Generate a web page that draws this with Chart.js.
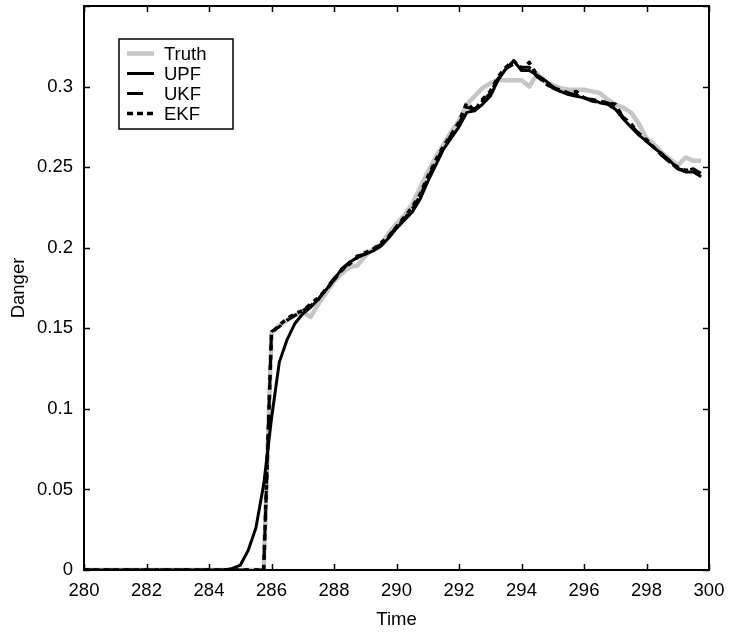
<!DOCTYPE html>
<html>
<head>
<meta charset="utf-8">
<script src="https://cdn.jsdelivr.net/npm/chart.js@4/dist/chart.umd.min.js"></script>
<style>
  html, body { margin: 0; padding: 0; background: #fff; }
  #wrap { width: 734px; height: 633px; }
</style>
</head>
<body>
<div id="wrap"><canvas id="dangerChart" width="734" height="633"></canvas></div>
<script>
// time grid (flat zero part only needs its ends)
const time = [280,
  284.5, 284.75,
  285, 285.25, 285.5, 285.75,
  286, 286.25, 286.5, 286.75,
  287, 287.25, 287.5, 287.75,
  288, 288.25, 288.5, 288.75,
  289, 289.25, 289.5, 289.75,
  290, 290.25, 290.5, 290.75,
  291, 291.25, 291.5, 291.75,
  292, 292.25, 292.5, 292.75,
  293, 293.25, 293.5, 293.75,
  294, 294.25, 294.5, 294.75,
  295, 295.25, 295.5, 295.75,
  296, 296.25, 296.5, 296.75,
  297, 297.25, 297.5, 297.75,
  298, 298.25, 298.5, 298.75,
  299, 299.25, 299.5, 299.75];

const truth = [0,
  0, 0,
  0, 0, 0, 0,
  0.147, 0.152, 0.155, 0.158,
  0.160, 0.157, 0.165, 0.172,
  0.179, 0.184, 0.188, 0.189,
  0.195, 0.199, 0.202, 0.209,
  0.215, 0.220, 0.227, 0.237,
  0.247, 0.256, 0.264, 0.272,
  0.279, 0.289, 0.294, 0.299,
  0.302, 0.304, 0.304, 0.304,
  0.304, 0.300, 0.308, 0.303,
  0.301, 0.299, 0.298, 0.298,
  0.298, 0.297, 0.296, 0.292,
  0.289, 0.287, 0.284, 0.277,
  0.268, 0.264, 0.259, 0.255,
  0.251, 0.256, 0.254, 0.254];

const upf = [0,
  0, 0.001,
  0.003, 0.012, 0.026, 0.053,
  0.094, 0.129, 0.143, 0.153,
  0.159, 0.163, 0.168, 0.174,
  0.180, 0.187, 0.191, 0.194,
  0.196, 0.198, 0.201, 0.206,
  0.212, 0.217, 0.222, 0.230,
  0.241, 0.251, 0.261, 0.268,
  0.275, 0.284, 0.285, 0.289,
  0.294, 0.304, 0.311, 0.316,
  0.310, 0.310, 0.307, 0.304,
  0.300, 0.297, 0.295, 0.294,
  0.293, 0.292, 0.290, 0.289,
  0.286, 0.280, 0.275, 0.270,
  0.266, 0.262, 0.258, 0.254,
  0.249, 0.247, 0.247, 0.244];

const ukf = [0,
  0, 0,
  0, 0, 0, 0,
  0.148, 0.151, 0.155, 0.158,
  0.161, 0.164, 0.168, 0.175,
  0.181, 0.186, 0.191, 0.195,
  0.196, 0.199, 0.202, 0.207,
  0.213, 0.218, 0.224, 0.232,
  0.243, 0.253, 0.262, 0.270,
  0.277, 0.287, 0.286, 0.291,
  0.296, 0.305, 0.311, 0.314,
  0.312, 0.312, 0.306, 0.303,
  0.299, 0.297, 0.296, 0.295,
  0.293, 0.291, 0.290, 0.290,
  0.288, 0.281, 0.276, 0.271,
  0.266, 0.262, 0.257, 0.253,
  0.249, 0.248, 0.249, 0.246];

const ekf = [0,
  0, 0,
  0, 0, 0, 0,
  0.147, 0.152, 0.156, 0.159,
  0.161, 0.165, 0.169, 0.174,
  0.180, 0.186, 0.190, 0.194,
  0.197, 0.199, 0.203, 0.207,
  0.213, 0.219, 0.225, 0.233,
  0.244, 0.254, 0.263, 0.270,
  0.278, 0.290, 0.285, 0.292,
  0.297, 0.306, 0.312, 0.316,
  0.311, 0.315, 0.307, 0.302,
  0.299, 0.298, 0.296, 0.297,
  0.293, 0.292, 0.291, 0.290,
  0.289, 0.281, 0.277, 0.271,
  0.267, 0.262, 0.258, 0.253,
  0.250, 0.248, 0.248, 0.245];

const FONT = '"Liberation Sans", Arial, sans-serif';
const FSIZE = 18.5;

function pts(values) {
  return time.map((t, i) => ({ x: t, y: values[i] }));
}

// frame, inward ticks on all four sides, and the boxed legend
const framePlugin = {
  id: 'frame',
  afterDraw(chart) {
    const { ctx, chartArea: a, scales } = chart;
    ctx.save();
    ctx.strokeStyle = '#000';
    ctx.lineWidth = 1.5;
    const len = 6;
    ctx.beginPath();
    scales.x.ticks.forEach(t => {
      const px = Math.round(scales.x.getPixelForValue(t.value)) + 0.5;
      ctx.moveTo(px, a.bottom); ctx.lineTo(px, a.bottom - len);
      ctx.moveTo(px, a.top); ctx.lineTo(px, a.top + len);
    });
    scales.y.ticks.forEach(t => {
      const py = Math.round(scales.y.getPixelForValue(t.value)) + 0.5;
      ctx.moveTo(a.left, py); ctx.lineTo(a.left + len, py);
      ctx.moveTo(a.right, py); ctx.lineTo(a.right - len, py);
    });
    ctx.stroke();
    ctx.lineWidth = 2;
    ctx.strokeRect(a.left, a.top, a.right - a.left, a.bottom - a.top);

    // legend
    const bx = 119, by = 39, bw = 114, bh = 90;
    ctx.fillStyle = '#fff';
    ctx.fillRect(bx, by, bw, bh);
    ctx.lineWidth = 1.5;
    ctx.strokeRect(bx, by, bw, bh);
    ctx.font = FSIZE + 'px ' + FONT;
    ctx.textBaseline = 'middle';
    chart.data.datasets.forEach((ds, i) => {
      const y = by + 14.5 + i * 20;
      ctx.strokeStyle = ds.borderColor;
      ctx.lineWidth = ds.borderWidth;
      ctx.setLineDash(ds.legendDash || []);
      ctx.beginPath();
      ctx.moveTo(127, y); ctx.lineTo(154, y);
      ctx.stroke();
      ctx.setLineDash([]);
      ctx.fillStyle = '#000';
      ctx.fillText(ds.label, 164, y + 1);
    });
    ctx.restore();
  }
};

new Chart(document.getElementById('dangerChart').getContext('2d'), {
  type: 'line',
  data: {
    datasets: [
      { label: 'Truth', data: pts(truth), borderColor: '#c6c6c6', borderWidth: 4.5, order: 4 },
      { label: 'UPF', data: pts(upf), borderColor: '#000', borderWidth: 3, order: 3 },
      { label: 'UKF', data: pts(ukf), borderColor: '#000', borderWidth: 3, borderDash: [12, 7], legendDash: [16, 20], order: 2 },
      { label: 'EKF', data: pts(ekf), borderColor: '#000', borderWidth: 3.5, borderDash: [5, 5], legendDash: [6, 4], order: 1 }
    ]
  },
  options: {
    responsive: false,
    animation: false,
    layout: { padding: { top: 6, right: 25, left: 0, bottom: 0 } },
    elements: { point: { radius: 0 }, line: { tension: 0, borderJoinStyle: 'round' } },
    plugins: { legend: { display: false }, tooltip: { enabled: false } },
    scales: {
      x: {
        type: 'linear', min: 280, max: 300,
        grid: { display: false, drawTicks: false },
        border: { display: false },
        ticks: { stepSize: 2, padding: 10, color: '#000', font: { family: FONT, size: FSIZE } },
        title: { display: true, text: 'Time', color: '#000', font: { family: FONT, size: FSIZE }, padding: { top: 0, bottom: 2 } },
        afterFit(scale) { scale.height = 63; scale.paddingLeft = 0; scale.paddingRight = 0; }
      },
      y: {
        type: 'linear', min: 0, max: 0.35,
        grid: { display: false, drawTicks: false },
        border: { display: false },
        ticks: {
          stepSize: 0.05, padding: 11, color: '#000', font: { family: FONT, size: FSIZE },
          callback: v => v > 0.34 ? '' : String(+v.toFixed(2))
        },
        title: { display: true, text: 'Danger', color: '#000', font: { family: FONT, size: FSIZE }, padding: { top: 8, bottom: 6 } },
        afterFit(scale) { scale.width = 84; scale.paddingTop = 0; scale.paddingBottom = 0; }
      }
    }
  },
  plugins: [framePlugin]
});
</script>
</body>
</html>
